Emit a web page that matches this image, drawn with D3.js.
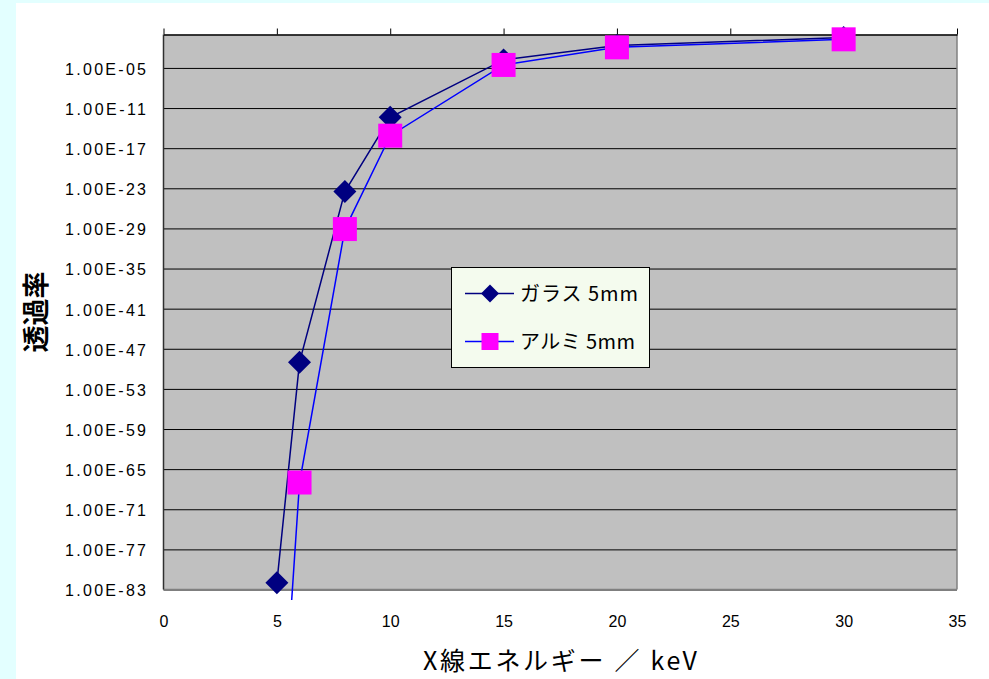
<!DOCTYPE html>
<html><head><meta charset="utf-8">
<script src="https://cdn.jsdelivr.net/npm/d3@7"></script>
<style>
html,body{margin:0;padding:0;background:#e3ffff;}
svg{display:block;}
text{font-family:"Noto Sans CJK JP","Noto Sans",sans-serif;fill:#000;}
</style></head><body>
<svg id="chart" width="989" height="679"></svg>
<script>
// ---- data ----
const energies = [5, 6, 8, 10, 15, 20, 30];
const glass = [1e-82, 1e-49, 3.2e-24, 4.2e-13, 1.6e-4, 2.2e-2, 0.35];
const alum = [1.6e-118, 1e-67, 8e-30, 7.4e-16, 2.8e-5, 1.2e-2, 0.19];
const seriesNames = ["ガラス 5mm", "アルミ 5mm"];
const xTicks = [0, 5, 10, 15, 20, 25, 30, 35];
const yTicks = [1e-83, 1e-77, 1e-71, 1e-65, 1e-59, 1e-53, 1e-47, 1e-41, 1e-35, 1e-29, 1e-23, 1e-17, 1e-11, 1e-5];
const yTickLabels = ["1.00E-83","1.00E-77","1.00E-71","1.00E-65","1.00E-59","1.00E-53","1.00E-47","1.00E-41","1.00E-35","1.00E-29","1.00E-23","1.00E-17","1.00E-11","1.00E-05"];
const xTitle = "X線エネルギー ／ keV";
const yTitle = "透過率";

// ---- layout ----
const svg = d3.select("#chart");
const L = 163.5, R = 957, T = 34.5, B = 589.5;
svg.append("rect").attr("x",16).attr("y",3).attr("width",989-16).attr("height",679-3).attr("fill","#ffffff");

const x = d3.scaleLinear().domain([0,35]).range([L,R]);
const y = d3.scaleLog().domain([1e-83,1]).range([B,T]);

// plot area
svg.append("rect").attr("x",L).attr("y",T).attr("width",R-L).attr("height",B-T).attr("fill","#c0c0c0");

// gridlines
const grid = svg.append("g").attr("transform",`translate(${L},0)`)
  .call(d3.axisLeft(y).tickValues(yTicks).tickSize(-(R-L)).tickFormat(""));
grid.select(".domain").remove();
grid.selectAll("line").attr("stroke","#000").attr("stroke-width",1);

// borders
svg.append("line").attr("x1",L).attr("x2",R).attr("y1",B).attr("y2",B).attr("stroke","#808080").attr("stroke-width",1.5);
svg.append("line").attr("x1",R).attr("x2",R).attr("y1",T).attr("y2",B).attr("stroke","#808080").attr("stroke-width",1.5);
svg.append("line").attr("x1",L).attr("x2",L).attr("y1",T).attr("y2",B).attr("stroke","#303030").attr("stroke-width",1.5);

// top x axis (ticks outward, no labels)
const topAx = svg.append("g").attr("transform",`translate(0,${T})`)
  .call(d3.axisTop(x).tickValues(xTicks).tickSize(6).tickSizeOuter(0).tickFormat(""));
topAx.select(".domain").attr("stroke","#000").attr("stroke-width",1.5);
topAx.selectAll("line").attr("stroke","#000");

// bottom tick labels
const botAx = svg.append("g").attr("transform",`translate(0,${B})`)
  .call(d3.axisBottom(x).tickValues(xTicks).tickSize(0).tickPadding(0).tickFormat(d3.format("d")));
botAx.select(".domain").remove();
botAx.selectAll("text").attr("y",37).attr("dy",0).attr("font-size",16)
  .style("font-family","'Liberation Sans',Arial,sans-serif");

// y tick labels
const leftAx = svg.append("g").attr("transform",`translate(${L},0)`)
  .call(d3.axisLeft(y).tickValues(yTicks).tickSize(0).tickPadding(17.5).tickFormat((d,i)=>yTickLabels[i]));
leftAx.select(".domain").remove();
leftAx.selectAll("text").attr("font-size",16).attr("dy","0.4em")
  .style("font-family","'Liberation Sans',Arial,sans-serif")
  .attr("textLength",81).attr("lengthAdjust","spacing");

// titles
svg.append("text").attr("transform","translate(46,312) rotate(-90)").attr("text-anchor","middle")
  .attr("font-size",27).attr("font-weight","bold").text(yTitle);
svg.append("text").attr("x",423).attr("y",670).attr("font-size",25)
  .attr("textLength",274).attr("lengthAdjust","spacing").text(xTitle);

// clip for lines
svg.append("clipPath").attr("id","clipL").append("rect").attr("x",L).attr("y",T-10).attr("width",R-L).attr("height",600-(T-10));

const line = d3.line().x(d=>x(d[0])).y(d=>y(d[1]));
function diamondPath(cx,cy,h){return `M${cx},${cy-h}L${cx+h},${cy}L${cx},${cy+h}L${cx-h},${cy}Z`;}

// glass series
const gData = energies.map((e,i)=>[e,glass[i]]);
svg.append("path").attr("d",line(gData)).attr("fill","none").attr("stroke","#000080").attr("stroke-width",1.5).attr("clip-path","url(#clipL)");
svg.append("g").selectAll("path").data(gData).join("path")
  .attr("d",d=>diamondPath(x(d[0]),y(d[1]),11.5)).attr("fill","#000080");

// aluminium series
const aData = energies.map((e,i)=>[e,alum[i]]);
svg.append("path").attr("d",line(aData)).attr("fill","none").attr("stroke","#0000ff").attr("stroke-width",1.5).attr("clip-path","url(#clipL)");
svg.append("g").selectAll("rect").data(aData.filter(d=>y(d[1])<B+20)).join("rect")
  .attr("x",d=>x(d[0])-12).attr("y",d=>y(d[1])-12).attr("width",24).attr("height",24).attr("fill","#ff00ff");

// legend
const lg = svg.append("g");
lg.append("rect").attr("x",451.5).attr("y",267.5).attr("width",198).attr("height",100)
  .attr("fill","#f4fbee").attr("stroke","#000").attr("stroke-width",1);
const rows = [{y:293.5, c:"#000080", m:"#000080", t:"d", w:118},{y:341.5, c:"#0000ff", m:"#ff00ff", t:"s", w:115}];
rows.forEach((r,i)=>{
  lg.append("line").attr("x1",465).attr("x2",514).attr("y1",r.y).attr("y2",r.y).attr("stroke",r.c).attr("stroke-width",1.5);
  if(r.t==="d") lg.append("path").attr("d",diamondPath(490,r.y,9)).attr("fill",r.m);
  else lg.append("rect").attr("x",481.5).attr("y",r.y-8.5).attr("width",17).attr("height",17).attr("fill",r.m);
  lg.append("text").attr("x",520).attr("y",r.y).attr("dy","0.36em").attr("font-size",20)
    .attr("textLength",r.w).attr("lengthAdjust","spacing").text(seriesNames[i]);
});
</script>
</body></html>
